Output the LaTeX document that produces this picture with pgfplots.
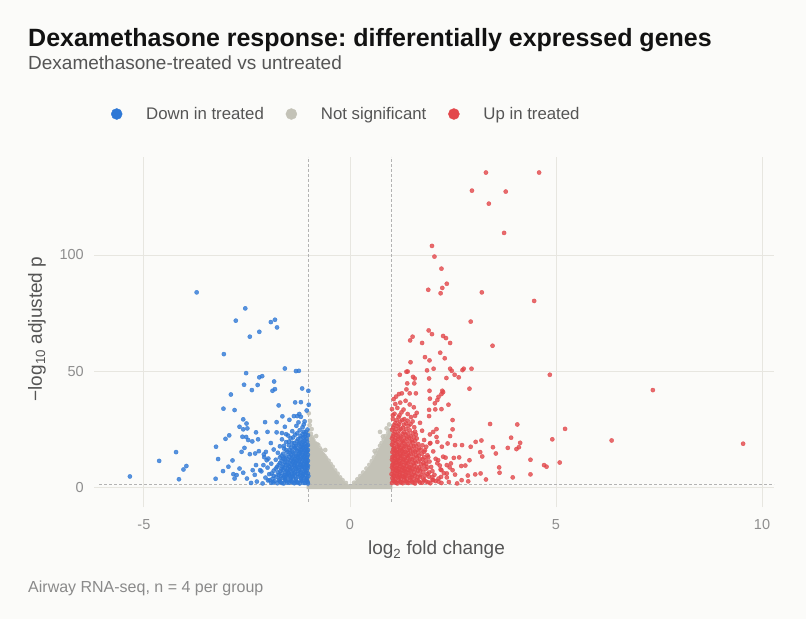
\documentclass[border=0pt]{standalone}
\usepackage{pgfplots}
\pgfplotsset{compat=1.18}
\usepackage{fontspec}
\setmainfont{Liberation Sans}
\frenchspacing
\definecolor{bgc}{HTML}{FBFBF9}
\definecolor{gridc}{HTML}{E7E6E0}
\definecolor{downc}{HTML}{2E78D6}
\definecolor{upc}{HTML}{E3474B}
\definecolor{nsc}{HTML}{C3C2B7}
\definecolor{tickc}{HTML}{8E8E8E}
\definecolor{labc}{HTML}{555555}
\definecolor{capc}{HTML}{8A8A8A}
\definecolor{dashc}{HTML}{B3B3B3}

\pgfplotstableread{
x y
-3.72 83.9
-2.54 77.0
-1.92 71.1
-1.82 72.1
-1.77 68.8
-2.77 71.7
-2.43 64.8
-2.20 66.9
-3.06 57.3
-1.58 51.1
-1.31 50.0
-1.24 50.1
-2.52 49.1
-2.20 47.3
-2.13 47.8
-2.57 44.1
-2.38 41.8
-2.24 44.0
-1.84 45.5
-1.88 41.5
-1.82 42.2
-1.16 42.5
-1.01 41.5
-2.89 39.9
-1.33 36.5
-1.19 36.6
-1.00 35.5
-1.73 35.2
-3.07 33.8
-2.80 33.2
-1.64 30.5
-1.36 30.6
-1.28 30.6
-1.23 31.5
-1.19 30.3
-2.59 29.2
-2.51 27.4
-2.06 28.0
-1.78 28.0
-2.68 26.0
-2.59 24.9
-2.49 25.3
-2.28 23.6
-2.00 23.8
-1.78 23.6
-1.65 23.3
-1.55 22.8
-2.93 22.3
-3.02 20.8
-2.61 21.7
-2.52 21.6
-2.47 20.3
-2.37 19.7
-2.23 20.6
-3.25 17.4
-2.56 16.9
-2.63 15.2
-4.22 15.1
-2.43 14.2
-2.30 14.5
-2.21 15.5
-2.09 14.1
-2.04 15.2
-3.20 12.1
-2.85 11.5
-4.63 11.3
-3.97 9.1
-4.04 7.6
-2.95 8.8
-3.08 6.9
-4.15 3.4
-5.34 4.6
-3.26 3.6
-2.83 5.6
-2.80 3.7
-2.75 5.2
-2.68 8.0
-2.59 6.2
-2.50 3.7
-2.36 7.3
-2.28 9.5
-2.18 7.3
-2.10 9.5
-2.02 11.6
-1.98 12.3
-1.90 5.9
-2.40 1.8
-2.26 2.4
-2.12 1.6
-1.99 2.9
-1.91 1.9
-1.83 2.6
-1.76 1.7
-1.69 2.3
-1.61 1.6
-1.55 2.8
-1.48 1.9
-1.42 2.5
-1.35 1.7
-1.29 2.2
-1.22 1.6
-1.16 2.7
-1.09 1.8
-1.03 2.3
-2.05 4.1
-1.88 3.6
-1.79 4.4
-1.71 3.4
-1.63 4.0
-1.57 3.5
-1.51 4.6
-1.44 3.6
-1.38 4.3
-1.31 3.5
-1.25 4.5
-1.18 3.7
-1.12 4.2
-1.06 3.4
-1.01 4.8
-2.31 5.3
-1.96 5.6
-1.73 5.2
-1.65 6.0
-1.58 5.3
-1.50 6.3
-1.41 5.5
-1.34 6.4
-1.27 5.6
-1.20 6.5
-1.13 5.7
-1.07 6.3
-1.02 5.9
-2.15 6.8
-1.85 7.1
-1.69 6.9
-1.61 7.6
-1.53 7.0
-1.45 7.8
-1.38 7.2
-1.30 7.9
-1.23 7.3
-1.16 8.0
-1.09 7.4
-1.03 8.2
-2.00 8.4
-1.77 8.7
-1.64 8.8
-1.55 9.4
-1.47 8.7
-1.36 9.3
-1.29 8.8
-1.21 9.6
-1.14 9.0
-1.07 9.8
-1.02 9.2
-1.91 10.1
-1.70 10.4
-1.58 10.8
-1.46 10.2
-1.39 11.0
-1.32 10.5
-1.25 11.2
-1.17 10.6
-1.10 11.3
-1.04 10.7
-1.80 11.8
-1.62 12.2
-1.50 11.9
-1.41 12.6
-1.34 12.0
-1.26 12.8
-1.19 12.3
-1.12 13.0
-1.05 12.4
-2.08 12.9
-1.66 13.6
-1.55 13.2
-1.43 14.0
-1.31 13.5
-1.24 14.2
-1.15 13.8
-1.08 14.5
-1.02 13.9
-1.75 14.8
-1.52 15.2
-1.38 14.9
-1.28 15.6
-1.20 15.1
-1.11 15.8
-1.04 15.3
-1.85 16.2
-1.60 16.6
-1.46 16.0
-1.33 16.9
-1.22 16.4
-1.14 17.1
-1.06 16.6
-1.70 17.6
-1.48 18.0
-1.36 17.5
-1.25 18.3
-1.16 17.8
-1.08 18.6
-1.02 18.1
-1.92 19.0
-1.55 19.4
-1.40 19.1
-1.29 19.8
-1.18 19.3
-1.10 20.0
-1.65 20.6
-1.44 21.0
-1.26 20.7
-1.13 21.3
-1.05 20.9
-1.50 22.2
-1.33 22.6
-1.20 22.0
-1.08 22.8
-1.40 24.1
-1.22 24.5
-1.12 23.8
-1.03 24.8
-1.58 26.0
-1.30 26.4
-1.15 25.8
-1.25 27.9
-1.10 28.3
-1.47 29.0
-1.05 33.0
-1.12 27.0
-1.95 3.0
-1.86 2.0
-1.72 2.9
-1.65 1.8
-1.58 3.2
-1.52 2.0
-1.45 3.1
-1.39 2.0
-1.32 2.9
-1.26 1.9
-1.19 3.0
-1.13 1.9
-1.06 2.9
-1.02 1.6
-1.85 4.9
-1.68 4.8
-1.60 4.5
-1.54 5.0
-1.47 5.0
-1.40 4.7
-1.33 5.0
-1.22 5.0
-1.15 4.8
-1.09 5.1
-1.04 3.8
-1.75 6.3
-1.56 6.5
-1.48 6.0
-1.42 6.8
-1.35 5.9
-1.26 6.8
-1.18 6.0
-1.11 6.8
-1.05 7.2
-1.80 8.0
-1.67 7.9
-1.58 8.2
-1.50 8.0
-1.41 8.4
-1.33 8.2
-1.25 8.4
-1.18 8.6
-1.11 8.5
-1.05 8.9
-1.73 9.6
-1.62 9.7
-1.51 9.6
-1.42 9.8
-1.34 9.8
-1.27 10.0
-1.19 9.9
-1.12 10.1
-1.06 10.4
-1.66 11.3
-1.54 11.1
-1.44 11.4
-1.36 11.3
-1.29 11.6
-1.22 11.7
-1.14 11.9
-1.08 11.9
-1.02 11.4
-1.70 12.8
-1.59 12.6
-1.47 13.0
-1.38 13.0
-1.28 13.1
-1.21 13.4
-1.10 13.5
-1.04 13.0
-1.62 14.4
-1.47 14.5
-1.34 14.4
-1.23 14.7
-1.15 14.9
-1.06 14.9
-1.55 16.0
-1.41 15.7
-1.30 16.2
-1.18 16.0
-1.09 16.3
-1.02 16.0
-1.60 17.8
-1.42 17.1
-1.31 17.8
-1.20 17.3
-1.12 18.1
-1.05 17.6
-1.48 19.6
-1.35 19.0
-1.23 19.0
-1.14 19.6
-1.04 19.6
-1.38 21.4
-1.20 21.0
-1.09 21.7
-1.02 22.4
-1.28 23.2
-1.15 22.9
-1.07 23.7
}\downtable

\pgfplotstableread{
x y
3.30 135.5
4.59 135.5
2.96 127.7
3.78 127.3
3.37 122.1
3.74 109.5
1.99 103.9
2.05 99.3
2.22 94.1
2.35 87.6
2.24 85.8
1.90 85.0
2.20 83.5
3.20 83.9
4.47 80.2
2.93 71.3
1.91 67.5
1.99 65.9
1.52 64.8
1.46 63.2
2.26 65.1
2.33 64.2
1.75 62.1
2.43 62.1
3.46 60.9
2.19 57.9
1.82 56.0
2.30 55.5
1.93 54.6
1.47 53.8
2.03 51.0
1.87 50.3
1.40 49.8
2.43 51.0
2.47 50.1
2.73 50.4
2.76 51.0
2.95 51.0
2.54 48.4
2.64 47.3
2.34 47.0
1.92 46.8
1.21 48.4
1.53 47.5
1.57 46.8
4.85 48.4
1.56 44.7
1.39 44.7
2.90 42.4
1.93 41.5
2.24 41.5
2.26 40.9
2.22 40.1
2.15 38.9
1.37 42.1
1.45 40.4
1.26 40.4
1.19 40.1
1.60 40.4
1.94 38.1
2.06 36.1
2.12 37.5
2.39 35.5
1.92 33.3
2.07 33.5
2.22 33.6
1.92 30.6
2.49 28.9
1.58 30.7
3.40 27.2
4.06 27.0
5.22 25.1
4.91 20.6
3.91 21.3
4.13 19.1
4.10 17.2
4.04 16.4
3.83 16.9
3.47 17.2
3.54 14.5
3.19 20.1
3.05 19.5
2.93 17.4
3.16 15.1
3.21 13.2
2.90 11.6
4.38 11.8
4.71 9.5
4.77 8.8
5.09 10.6
4.38 5.5
3.95 4.2
3.62 8.5
3.63 6.2
3.30 3.3
7.35 41.8
6.35 20.1
9.54 18.7
1.37 49.7
2.49 24.9
2.43 22.0
2.10 25.0
2.02 23.8
1.94 22.7
2.80 9.3
2.70 9.1
2.65 12.8
2.52 12.6
2.45 10.2
2.35 9.5
3.17 5.9
3.04 5.5
2.86 5.0
2.87 2.5
2.71 3.0
2.72 18.1
2.55 18.1
2.37 18.8
2.23 17.4
2.12 19.5
2.49 7.3
2.35 5.9
2.21 4.4
2.02 3.0
2.22 7.3
2.14 11.6
2.26 13.1
1.94 18.8
1.82 15.9
1.02 1.8
1.08 2.5
1.15 1.6
1.22 2.3
1.28 1.7
1.35 2.6
1.42 1.8
1.50 2.4
1.58 1.6
1.66 2.7
1.75 1.9
1.85 2.4
1.95 1.7
2.08 2.6
2.22 1.8
2.40 2.2
2.60 1.6
1.03 3.9
1.10 3.4
1.17 4.2
1.24 3.5
1.31 4.4
1.38 3.6
1.46 4.1
1.55 3.4
1.64 4.3
1.78 3.6
1.92 4.5
2.15 3.7
2.35 4.2
1.01 5.6
1.06 5.0
1.13 5.8
1.20 5.1
1.27 5.9
1.34 5.2
1.42 6.0
1.52 5.3
1.62 5.9
1.72 5.2
1.88 5.7
2.05 5.3
2.28 6.0
2.55 5.4
1.04 6.9
1.11 7.4
1.18 6.7
1.25 7.5
1.33 6.8
1.40 7.6
1.49 6.9
1.58 7.7
1.70 7.0
1.84 7.8
2.00 6.9
2.20 7.6
1.02 8.4
1.08 9.0
1.15 8.2
1.22 9.1
1.30 8.3
1.38 9.2
1.47 8.5
1.56 9.3
1.68 8.6
1.80 9.4
1.97 8.7
2.18 9.3
2.42 8.5
1.05 10.1
1.12 10.7
1.19 10.0
1.27 10.8
1.35 10.2
1.44 11.0
1.54 10.3
1.66 11.1
1.78 10.4
1.93 11.0
2.12 10.3
1.02 11.8
1.09 12.4
1.16 11.7
1.24 12.5
1.32 11.9
1.41 12.7
1.51 12.0
1.63 12.8
1.76 12.1
1.90 12.9
2.08 12.2
2.32 12.7
1.06 13.4
1.13 14.1
1.21 13.3
1.29 14.2
1.38 13.5
1.48 14.3
1.60 13.6
1.74 14.4
1.88 13.7
1.03 15.1
1.10 15.7
1.18 15.0
1.26 15.8
1.35 15.2
1.46 16.0
1.58 15.3
1.72 16.1
2.02 15.4
1.07 16.8
1.15 17.4
1.23 16.7
1.32 17.5
1.43 16.9
1.55 17.6
1.68 16.8
1.85 17.4
1.02 18.3
1.11 19.0
1.20 18.2
1.30 19.1
1.40 18.4
1.52 19.2
1.66 18.5
1.95 19.0
1.08 20.1
1.17 20.8
1.27 20.0
1.38 20.9
1.50 20.2
1.62 21.0
1.80 20.3
1.04 21.9
1.13 22.5
1.24 21.8
1.35 22.6
1.47 21.9
1.60 22.7
2.10 21.6
1.09 23.8
1.20 24.4
1.31 23.7
1.45 24.5
1.58 23.9
1.75 24.3
1.05 25.7
1.16 26.3
1.28 25.6
1.42 26.4
1.56 25.8
1.10 27.6
1.22 28.2
1.36 27.5
1.52 28.3
1.70 27.7
1.04 29.4
1.18 30.1
1.32 29.3
1.48 30.2
1.08 31.6
1.25 32.2
1.40 31.5
1.62 32.0
1.02 33.6
1.15 34.1
1.30 33.4
1.55 34.4
1.10 35.8
1.22 36.4
1.45 35.6
1.06 37.9
1.35 37.2
1.12 39.0
1.05 2.9
1.12 1.9
1.18 3.0
1.25 2.0
1.32 3.1
1.39 1.9
1.46 3.0
1.54 1.9
1.62 3.1
1.70 2.0
1.80 3.0
1.90 2.1
2.00 3.2
2.15 2.4
1.07 4.5
1.14 4.9
1.21 4.4
1.28 4.8
1.35 4.6
1.44 5.1
1.50 4.5
1.58 5.0
1.70 4.5
1.82 4.9
2.00 4.4
1.08 6.2
1.15 6.9
1.22 6.3
1.30 7.1
1.37 6.4
1.45 7.2
1.55 6.4
1.65 7.1
1.78 6.5
1.92 6.3
1.05 7.8
1.12 8.3
1.19 7.8
1.27 8.5
1.34 8.0
1.43 8.6
1.52 8.0
1.62 8.5
1.74 8.0
1.88 8.5
1.03 9.6
1.09 10.3
1.16 9.5
1.23 10.2
1.31 9.6
1.40 10.4
1.49 9.7
1.60 10.5
1.72 9.9
1.85 10.0
1.06 11.3
1.13 11.9
1.20 11.2
1.28 11.9
1.37 11.3
1.46 11.9
1.57 11.4
1.70 11.9
1.84 11.5
1.03 13.0
1.10 13.5
1.17 12.8
1.25 13.6
1.34 12.9
1.43 13.7
1.54 13.0
1.67 13.5
1.80 12.9
1.07 14.7
1.14 14.9
1.22 14.4
1.31 14.9
1.41 14.7
1.53 14.8
1.65 14.9
1.80 15.2
1.05 16.3
1.14 16.2
1.22 16.0
1.30 16.4
1.40 15.9
1.52 16.3
1.62 16.1
1.06 17.7
1.18 17.8
1.27 17.9
1.37 17.6
1.48 17.9
1.60 17.9
1.76 18.0
1.04 19.5
1.15 19.5
1.25 19.6
1.35 19.6
1.46 19.7
1.58 19.9
1.02 21.0
1.11 21.2
1.21 21.3
1.32 21.2
1.43 21.4
1.55 21.5
1.06 22.9
1.17 23.0
1.28 22.9
1.40 23.1
1.52 23.2
1.02 24.7
1.12 25.0
1.23 25.1
1.36 25.0
1.07 26.7
1.19 27.0
1.31 26.9
1.47 27.1
1.13 28.8
1.27 28.9
1.40 28.6
1.04 31.0
1.20 30.9
}\uptable

\pgfplotstableread{
x y
-1.00 31.8
-0.98 26.7
-0.95 23.0
-0.92 21.5
-0.89 20.3
-0.85 19.0
-0.80 18.5
-0.77 18.1
-0.73 16.7
-0.70 15.8
-0.66 14.2
-0.62 13.5
-0.58 12.5
-0.52 11.4
-0.47 10.0
-0.42 8.8
-0.36 7.2
-0.30 5.8
-0.24 4.2
-0.18 3.0
-0.10 1.8
0.10 1.9
0.18 3.4
0.25 4.8
0.32 6.3
0.40 8.0
0.47 9.6
0.53 11.2
0.58 12.8
0.63 14.5
0.68 16.0
0.73 17.8
0.77 19.0
0.82 20.5
0.86 22.0
0.89 25.3
0.93 23.5
0.97 24.6
0.73 23.8
0.95 27.0
-0.97 28.5
-0.93 25.0
-0.82 22.0
-0.60 16.0
0.60 15.5
0.80 21.8
}\nstable

\begin{document}
\begin{tikzpicture}
\useasboundingbox (0bp,0bp) rectangle (806bp,619bp);
\fill[bgc] (0bp,0bp) rectangle (806bp,619bp);
\begin{axis}[
  at={(99bp,117bp)}, anchor=south west,
  width=675bp, height=345bp, scale only axis,
  xmin=-6.09, xmax=10.29, ymin=-6.4, ymax=142.2,
  axis line style={draw=none},
  xtick={-5,0,5,10}, xticklabels={-5,0,5,10},
  ytick={0,50,100}, yticklabels={0,50,100},
  xtick pos=bottom, ytick pos=left,
  tick align=outside, major tick length=5bp,
  tick style={color=gridc, line width=0.9bp},
  grid=major, major grid style={color=gridc, line width=0.9bp},
  ticklabel style={font=\fontsize{14.5bp}{17bp}\selectfont, color=tickc},
  xticklabel style={inner sep=0pt, anchor=north, yshift=-12bp},
  yticklabel style={inner sep=0pt, anchor=east, xshift=-10bp},
  legend columns=3,
  legend style={at={(0.0178,1.1246)}, anchor=west, draw=none, fill=none,
    inner sep=0pt, font=\fontsize{16.8bp}{20bp}\selectfont, text=labc,
    nodes={inner sep=0pt},
    /tikz/every even column/.append style={column sep=22bp},
    /tikz/every odd column/.append style={column sep=24bp}},
  legend image code/.code={\draw[mark repeat=2,mark phase=2,#1] plot coordinates {(0bp,0bp)(6bp,0bp)(12bp,0bp)};},
  clip=true,
]
\addlegendimage{only marks, mark=*, mark size=5.5bp, color=downc}
\addlegendentry{Down in treated}
\addlegendimage{only marks, mark=*, mark size=5.5bp, color=nsc}
\addlegendentry{Not significant}
\addlegendimage{only marks, mark=*, mark size=5.5bp, color=upc}
\addlegendentry{Up in treated}

% dense core of the non-significant genes
\addplot[fill=nsc, draw=none, forget plot] coordinates {
(-1.05,-0.9) (-1.05,24) (-1.0,25) (-0.95,22.5) (-0.89,21) (-0.83,19.2) (-0.77,17.4)
(-0.71,16) (-0.65,15.2) (-0.59,13.4) (-0.53,11.6) (-0.46,9.8) (-0.40,8.0) (-0.34,6.6)
(-0.28,5.2) (-0.22,3.9) (-0.16,2.6) (-0.08,1.5) (0,1.0) (0.08,1.6) (0.16,3.0) (0.24,4.5)
(0.32,5.9) (0.40,7.7) (0.49,9.5) (0.55,11.3) (0.61,13.1) (0.67,15.2) (0.73,17.4)
(0.79,19.2) (0.85,21.0) (0.91,22.8) (0.97,24.6) (1.03,25) (1.03,-0.9)
} -- cycle;
\addplot[only marks, mark=*, mark size=2.1bp, color=nsc, opacity=0.85, forget plot] table {\nstable};
\addplot[only marks, mark=*, mark size=2.1bp, color=downc, opacity=0.8, forget plot] table {\downtable};
\addplot[only marks, mark=*, mark size=2.1bp, color=upc, opacity=0.8, forget plot] table {\uptable};

\addplot[color=dashc, line width=0.7bp, dash pattern=on 2.5bp off 2.5bp, forget plot] coordinates {(-1,-6.4) (-1,142.2)};
\addplot[color=dashc, line width=0.7bp, dash pattern=on 2.5bp off 2.5bp, forget plot] coordinates {(1,-6.4) (1,142.2)};
\addplot[color=dashc, line width=0.7bp, dash pattern=on 2.5bp off 2.5bp, forget plot] coordinates {(-6.09,1.3) (10.29,1.3)};
\end{axis}

\node[anchor=base west, inner sep=0pt, font=\fontsize{25bp}{29bp}\selectfont\bfseries, text=black!93] at (28bp,572bp) {Dexamethasone response: differentially expressed genes};
\node[anchor=base west, inner sep=0pt, font=\fontsize{19bp}{23bp}\selectfont, text=labc] at (28bp,549bp) {Dexamethasone-treated vs untreated};
\node[anchor=base, inner sep=0pt, font=\fontsize{19bp}{23bp}\selectfont, text=labc] at (436.5bp,64bp) {log\textsubscript{2} fold change};
\node[rotate=90, anchor=center, inner sep=0pt, font=\fontsize{19bp}{23bp}\selectfont, text=labc] at (37bp,290bp) {−log\textsubscript{10} adjusted p};
\node[anchor=base west, inner sep=0pt, font=\fontsize{16bp}{19bp}\selectfont, text=capc] at (28bp,27bp) {Airway RNA-seq, n = 4 per group};
\end{tikzpicture}
\end{document}
